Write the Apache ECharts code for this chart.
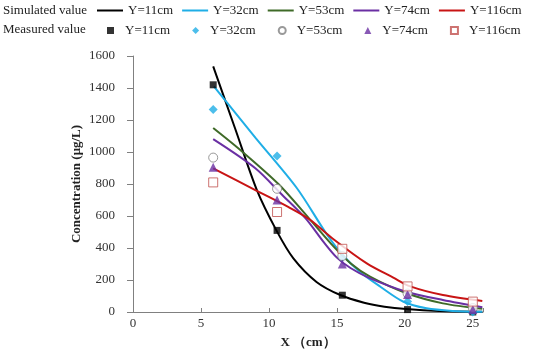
<!DOCTYPE html>
<html>
<head>
<meta charset="utf-8">
<script src="https://cdn.jsdelivr.net/npm/echarts@6/dist/echarts.min.js"></script>
<style>html,body{margin:0;padding:0;background:#fff;}#c{width:550px;height:351px;}</style>
</head>
<body>
<div id="c"></div>
<script>
// ---- data ----
var seriesNames = ['Y=11cm', 'Y=32cm', 'Y=53cm', 'Y=74cm', 'Y=116cm'];
var xTicks = [0, 5, 10, 15, 20, 25];
var yTicks = [0, 200, 400, 600, 800, 1000, 1200, 1400, 1600];

// measured values
var measX = [5.9, 10.6, 15.4, 20.2, 25.0];
var meas11 = [1420, 510, 105, 15, 0];
var meas32 = [1265, 975, 340, 65, 0];
var meas53 = [965, 770, 350, 115, 25];
var meas74 = [905, 700, 300, 110, 15];
var meas116 = [810, 625, 395, 160, 65];

// simulated curves
var sim11X = [5.9, 7.5, 9.1, 10.55, 11.8, 13.5, 15.25, 17.0, 18.5, 20.1, 22.5, 25.7];
var sim11Y = [1535, 1150, 765, 510, 335, 188, 106, 58, 33, 18, 6, 1];
var sim32X = [5.95, 9.0, 12.05, 14.3, 15.5, 16.7, 18.2, 19.9, 21.6, 23.5, 25.7];
var sim32Y = [1410, 1090, 775, 480, 350, 250, 158, 64, 23, 7, 2];
var sim53X = [5.9, 8.0, 10.7, 12.9, 14.75, 16.0, 17.44, 20.13, 22.8, 25.7];
var sim53Y = [1150, 1005, 800, 590, 410, 305, 221, 117, 54, 20];
var sim74X = [5.9, 9.0, 11.0, 12.7, 14.0, 15.0, 16.0, 17.4, 20.1, 22.8, 25.7];
var sim74Y = [1080, 898, 730, 585, 440, 340, 275, 212, 127, 75, 30];
var sim116X = [5.9, 9.0, 11.45, 13.0, 14.75, 17.2, 19.15, 20.4, 22.8, 25.7];
var sim116Y = [898, 762, 655, 578, 455, 304, 215, 160, 106, 69];

// ---- build ----
function zip(xs, ys) { return xs.map(function (x, i) { return [x, ys[i]]; }); }
var simX = [sim11X, sim32X, sim53X, sim74X, sim116X];
var simY = [sim11Y, sim32Y, sim53Y, sim74Y, sim116Y];
var measY = [meas11, meas32, meas53, meas74, meas116];
var lineColors = ['#000000', '#1FAEE6', '#3F6A28', '#6A2FA3', '#C81414'];
var measNames = ['m11', 'm32', 'm53', 'm74', 'm116'];
var symbols = ['rect', 'diamond', 'circle', 'triangle', 'rect'];
var symSizes = [7, 9, 9, 9, 9];
var measStyles = [
  {color: '#000000'},
  {color: '#1FAEE6'},
  {color: '#ffffff', borderColor: '#7f7f7f', borderWidth: 1},
  {color: '#6A2FA3'},
  {color: '#ffffff', borderColor: '#C0504D', borderWidth: 1}
];

var FONT = '"Liberation Serif", "DejaVu Serif", serif';
var series = [];
for (var i = 0; i < 5; i++) {
  series.push({
    name: seriesNames[i], type: 'line', data: zip(simX[i], simY[i]),
    smooth: 0.3, symbol: 'none', lineStyle: {color: lineColors[i], width: 2},
    itemStyle: {color: lineColors[i]}, z: 2
  });
}
for (var j = 0; j < 5; j++) {
  series.push({
    name: measNames[j], type: 'scatter', data: zip(measX, measY[j]),
    symbol: symbols[j], symbolSize: symSizes[j], itemStyle: measStyles[j], z: 5
  });
}

var chart = echarts.init(document.getElementById('c'));
chart.setOption({
  animation: false,
  backgroundColor: '#ffffff',
  textStyle: {fontFamily: FONT},
  graphic: [
    {type: 'text', left: 3, top: 4, style: {text: 'Simulated value', font: '13px ' + FONT, fill: '#222'}},
    {type: 'text', left: 3, top: 23, style: {text: 'Measured value', font: '13px ' + FONT, fill: '#222'}}
  ],
  legend: [
    {
      data: seriesNames.map(function (n) { return {name: n, icon: 'rect'}; }),
      left: 97, top: 4, padding: 0, itemWidth: 26, itemHeight: 2, itemGap: 9,
      textStyle: {fontFamily: FONT, fontSize: 13, color: '#222'}
    },
    {
      data: measNames, left: 107, top: 24, padding: 0, itemWidth: 7, itemHeight: 7, itemGap: 22,
      formatter: function (n) { return seriesNames[measNames.indexOf(n)]; },
      textStyle: {fontFamily: FONT, fontSize: 13, color: '#222', padding: [0, 0, 0, 6]}
    }
  ],
  grid: {left: 133, right: 67, top: 56, bottom: 39, outerBoundsMode: 'none', containLabel: false},
  xAxis: {
    type: 'value', min: xTicks[0], max: 25.75, interval: 5,
    name: 'X （cm）', nameLocation: 'middle', nameGap: 24, nameMoveOverlap: false,
    nameTextStyle: {fontFamily: FONT, fontSize: 13, fontWeight: 'bold', color: '#222'},
    axisLine: {show: true, lineStyle: {color: '#808080', width: 1}},
    axisTick: {show: true, inside: true, length: 4, lineStyle: {color: '#808080'}},
    axisLabel: {
      margin: 5, fontFamily: FONT, fontSize: 13, color: '#333',
      formatter: function (v) { return xTicks.indexOf(v) >= 0 ? String(v) : ''; }
    },
    splitLine: {show: false}
  },
  yAxis: {
    type: 'value', min: yTicks[0], max: yTicks[yTicks.length - 1], interval: 200,
    name: 'Concentration (μg/L)', nameLocation: 'middle', nameGap: 50, nameMoveOverlap: false,
    nameTextStyle: {fontFamily: FONT, fontSize: 13, fontWeight: 'bold', color: '#222'},
    axisLine: {show: true, lineStyle: {color: '#808080', width: 1}},
    axisTick: {show: true, inside: false, length: 6, lineStyle: {color: '#808080'}},
    axisLabel: {
      margin: 18, fontFamily: FONT, fontSize: 13, color: '#333',
      formatter: function (v) { return String(v); }
    },
    splitLine: {show: false}
  },
  series: series
});
</script>
</body>
</html>
